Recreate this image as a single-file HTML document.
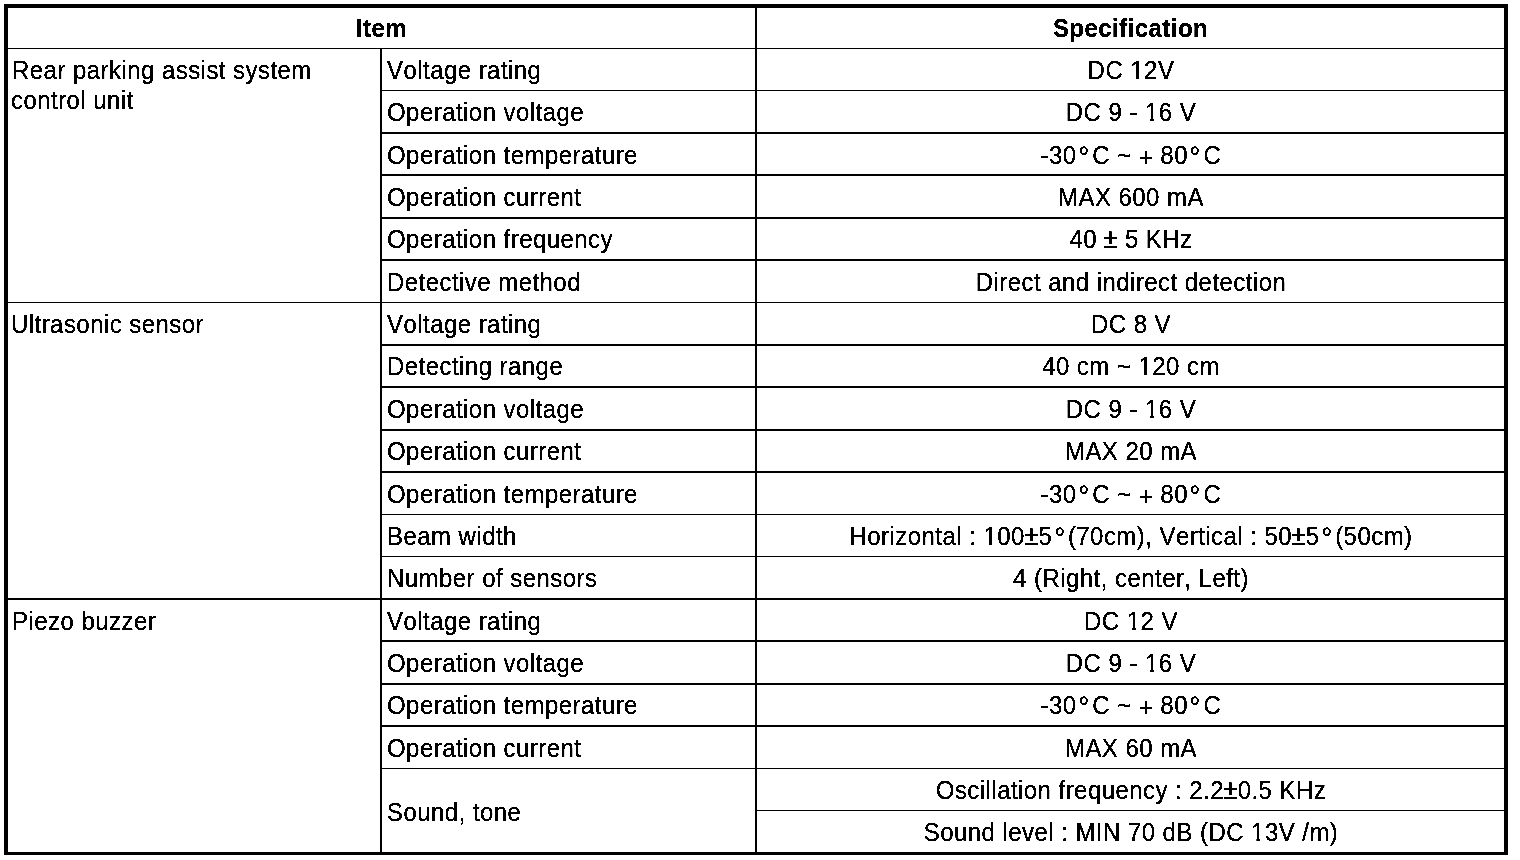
<!DOCTYPE html>
<html lang="en"><head><meta charset="utf-8"><title>Specification</title>
<style>
html,body{margin:0;padding:0;background:#fff;}
body{width:1520px;height:860px;position:relative;overflow:hidden;font-family:"Liberation Sans",Arial,Helvetica,sans-serif;font-size:24px;letter-spacing:0.45px;color:#000;line-height:30px;font-kerning:none;font-variant-ligatures:none;}
.l{position:absolute;background:#000;}
#w{position:absolute;left:0;top:0;width:1520px;height:860px;filter:url(#bw);}
.t{position:absolute;white-space:nowrap;height:30px;transform:scaleY(1.06);transform-origin:50% 23.5px;}
.c{text-align:center;}
.b{font-weight:bold;transform:scaleY(1.09);}
#h{position:absolute;left:0;top:0;width:1520px;height:50px;filter:url(#bw2);}
.d{display:inline-block;margin-left:2.4px;margin-right:3.2px;transform:scale(1.15);transform-origin:50% 6.7px;}
.p{position:relative;top:2px;}
.pm{display:inline-block;transform:scale(1.13,1.09);transform-origin:50% 23.5px;}
.o{display:inline-block;clip-path:polygon(0 0,100% 0,100% 20.8px,8.6px 20.8px,8.6px 30px,5.6px 30px,5.6px 20.8px,0 20.8px);}
</style></head><body>
<svg width="0" height="0" style="position:absolute"><filter id="bw" x="0" y="0" width="100%" height="100%" color-interpolation-filters="sRGB"><feComponentTransfer><feFuncA type="linear" slope="16" intercept="-4.2"/></feComponentTransfer></filter><filter id="bw2" x="0" y="0" width="100%" height="100%" color-interpolation-filters="sRGB"><feComponentTransfer><feFuncA type="linear" slope="16" intercept="-4.5"/></feComponentTransfer></filter></svg>
<div id="h">
<div class="t c b" style="left:8px;width:747px;top:13.5px">Item</div>
<div class="t c b" style="left:757px;width:747px;top:13.5px">Specification</div>
</div>
<div id="w">

<div class="l" style="left:4px;top:4px;width:1504px;height:4px"></div>
<div class="l" style="left:4px;top:852px;width:1504px;height:3px"></div>
<div class="l" style="left:4px;top:4px;width:4px;height:851px"></div>
<div class="l" style="left:1504px;top:4px;width:4px;height:851px"></div>
<div class="l" style="left:380px;top:48px;width:2px;height:804px"></div>
<div class="l" style="left:755px;top:8px;width:2px;height:844px"></div>
<div class="l" style="left:8px;top:48px;width:1496px;height:1px"></div>
<div class="l" style="left:380px;top:90px;width:1124px;height:1px"></div>
<div class="l" style="left:380px;top:132px;width:1124px;height:2px"></div>
<div class="l" style="left:380px;top:174px;width:1124px;height:2px"></div>
<div class="l" style="left:380px;top:217px;width:1124px;height:2px"></div>
<div class="l" style="left:380px;top:259px;width:1124px;height:2px"></div>
<div class="l" style="left:8px;top:302px;width:1496px;height:1px"></div>
<div class="l" style="left:380px;top:344px;width:1124px;height:2px"></div>
<div class="l" style="left:380px;top:386px;width:1124px;height:2px"></div>
<div class="l" style="left:380px;top:429px;width:1124px;height:2px"></div>
<div class="l" style="left:380px;top:471px;width:1124px;height:2px"></div>
<div class="l" style="left:380px;top:514px;width:1124px;height:1px"></div>
<div class="l" style="left:380px;top:556px;width:1124px;height:1px"></div>
<div class="l" style="left:8px;top:598px;width:1496px;height:2px"></div>
<div class="l" style="left:380px;top:640px;width:1124px;height:2px"></div>
<div class="l" style="left:380px;top:683px;width:1124px;height:2px"></div>
<div class="l" style="left:380px;top:725px;width:1124px;height:2px"></div>
<div class="l" style="left:380px;top:768px;width:1124px;height:1px"></div>
<div class="l" style="left:757px;top:810px;width:747px;height:1px"></div>
<div class="t c" style="left:757.5px;width:747px;top:55.5px">DC <span class="o">1</span>2V</div>
<div class="t c" style="left:757.5px;width:747px;top:97.5px">DC 9 - <span class="o">1</span>6 V</div>
<div class="t c" style="left:757.5px;width:747px;top:140.5px">-30<span class="d">°</span>C ~ <span class="p">+</span> 80<span class="d">°</span>C</div>
<div class="t c" style="left:757.5px;width:747px;top:182.5px">MAX 600 mA</div>
<div class="t c" style="left:757.5px;width:747px;top:224.5px">40 <span class="pm">±</span> 5 KHz</div>
<div class="t c" style="left:757.5px;width:747px;top:267.5px">Direct and indirect detection</div>
<div class="t c" style="left:757.5px;width:747px;top:309.5px">DC 8 V</div>
<div class="t c" style="left:757.5px;width:747px;top:351.5px">40 cm ~ <span class="o">1</span>20 cm</div>
<div class="t c" style="left:757.5px;width:747px;top:394.5px">DC 9 - <span class="o">1</span>6 V</div>
<div class="t c" style="left:757.5px;width:747px;top:436.5px">MAX 20 mA</div>
<div class="t c" style="left:757.5px;width:747px;top:479.5px">-30<span class="d">°</span>C ~ <span class="p">+</span> 80<span class="d">°</span>C</div>
<div class="t c" style="left:757.5px;width:747px;top:521.5px">Horizontal : <span class="o">1</span>00<span class="pm">±</span>5<span class="d">°</span>(70cm), Vertical : 50<span class="pm">±</span>5<span class="d">°</span>(50cm)</div>
<div class="t c" style="left:757.5px;width:747px;top:563.5px">4 (Right, center, Left)</div>
<div class="t c" style="left:757.5px;width:747px;top:606.5px">DC <span class="o">1</span>2 V</div>
<div class="t c" style="left:757.5px;width:747px;top:648.5px">DC 9 - <span class="o">1</span>6 V</div>
<div class="t c" style="left:757.5px;width:747px;top:690.5px">-30<span class="d">°</span>C ~ <span class="p">+</span> 80<span class="d">°</span>C</div>
<div class="t c" style="left:757.5px;width:747px;top:733.5px">MAX 60 mA</div>
<div class="t c" style="left:757.5px;width:747px;top:775.5px">Oscillation frequency : 2.2<span class="pm">±</span>0.5 KHz</div>
<div class="t c" style="left:757.5px;width:747px;top:817.5px">Sound level : MIN 70 dB (DC <span class="o">1</span>3V /m)</div>
<div class="t" style="left:387px;top:55.5px">Voltage rating</div>
<div class="t" style="left:387px;top:97.5px">Operation voltage</div>
<div class="t" style="left:387px;top:140.5px">Operation temperature</div>
<div class="t" style="left:387px;top:182.5px">Operation current</div>
<div class="t" style="left:387px;top:224.5px">Operation frequency</div>
<div class="t" style="left:387px;top:267.5px">Detective method</div>
<div class="t" style="left:387px;top:309.5px">Voltage rating</div>
<div class="t" style="left:387px;top:351.5px">Detecting range</div>
<div class="t" style="left:387px;top:394.5px">Operation voltage</div>
<div class="t" style="left:387px;top:436.5px">Operation current</div>
<div class="t" style="left:387px;top:479.5px">Operation temperature</div>
<div class="t" style="left:387px;top:521.5px">Beam width</div>
<div class="t" style="left:387px;top:563.5px">Number of sensors</div>
<div class="t" style="left:387px;top:606.5px">Voltage rating</div>
<div class="t" style="left:387px;top:648.5px">Operation voltage</div>
<div class="t" style="left:387px;top:690.5px">Operation temperature</div>
<div class="t" style="left:387px;top:733.5px">Operation current</div>
<div class="t" style="left:387px;top:797.5px">Sound, tone</div>
<div class="t" style="left:12px;top:55.5px">Rear parking assist system</div>
<div class="t" style="left:11px;top:85.5px">control unit</div>
<div class="t" style="left:11px;top:309.5px">Ultrasonic sensor</div>
<div class="t" style="left:12px;top:606.5px">Piezo buzzer</div>
</div>
</body></html>
